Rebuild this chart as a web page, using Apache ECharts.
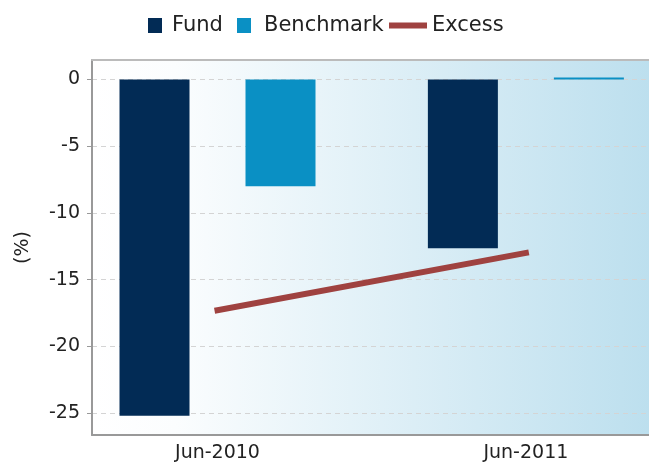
<!DOCTYPE html>
<html>
<head>
<meta charset="utf-8">
<script src="https://cdn.jsdelivr.net/npm/echarts@6/dist/echarts.min.js"></script>
<style>
  html, body { margin: 0; padding: 0; background: #fff; }
  #chart { width: 649px; height: 463px; }
</style>
</head>
<body>
<div id="chart"></div>
<script>
var categories = ["Jun-2010", "Jun-2011"];
var fund = [-25.2, -12.65];
var benchmark = [-8.0, 0.15];
var excess = [-17.3, -13.0];
var yTicks = [0, -5, -10, -15, -20, -25];

function toPoints(values) {
    return values.map(function (v, i) { return [i, v]; });
}

var myChart = echarts.init(document.getElementById("chart"));
var font = "DejaVu Sans";

var legendText = { fontFamily: font, fontSize: 21, color: "#222" };

// plot runs 3px past the right edge so its end line is off-canvas
var xMin = -0.407, xMax = 1.409;

var option = {
    animation: false,
    legend: [{
        data: ["Fund"], left: 143, top: 10, icon: "rect",
        itemWidth: 14, itemHeight: 15,
        textStyle: Object.assign({ padding: [0, 0, 0, 5] }, legendText)
    }, {
        data: ["Benchmark"], left: 232, top: 10, icon: "rect",
        itemWidth: 14, itemHeight: 15,
        textStyle: Object.assign({ padding: [0, 0, 0, 8] }, legendText)
    }, {
        data: ["Excess"], left: 384, top: 10, icon: "rect",
        itemWidth: 38, itemHeight: 6,
        textStyle: legendText
    }],
    grid: {
        left: 92, right: -3, top: 60, bottom: 28,
        outerBoundsMode: "none",
        containLabel: false,
        show: true,
        borderWidth: 0,
        backgroundColor: new echarts.graphic.LinearGradient(0, 0, 1, 0, [
            { offset: 0, color: "#ffffff" },
            { offset: 0.15, color: "#fbfdfe" },
            { offset: 1, color: "#bcdfee" }
        ])
    },
    xAxis: [{
        type: "value",
        min: xMin,
        max: xMax,
        axisLine: { onZero: false, lineStyle: { color: "#999", width: 2 } },
        axisTick: { show: false },
        splitLine: { show: false },
        axisLabel: {
            customValues: [0, 1],
            formatter: function (v) { return categories[Math.round(v)]; },
            fontFamily: font, fontSize: 19, color: "#222", margin: 9
        }
    }, {
        type: "value",
        position: "top",
        min: xMin,
        max: xMax,
        axisLine: { show: true, onZero: false, lineStyle: { color: "#bbb", width: 2 } },
        axisTick: { show: false },
        axisLabel: { show: false },
        splitLine: { show: false }
    }],
    yAxis: {
        type: "value",
        min: -26.65,
        max: 1.46,
        name: "(%)",
        nameLocation: "middle",
        nameRotate: 90,
        nameGap: 59,
        nameTextStyle: { fontFamily: font, fontSize: 19, color: "#222" },
        axisLine: { show: true, onZero: false, lineStyle: { color: "#999", width: 2 } },
        axisTick: { show: true, length: 5, customValues: yTicks, lineStyle: { color: "#999" } },
        axisLabel: {
            customValues: yTicks,
            fontFamily: font, fontSize: 19, color: "#222", margin: 12
        },
        splitLine: {
            show: true,
            customValues: yTicks,
            lineStyle: { color: "#d4d4d4", type: [5, 4], width: 1 }
        }
    },
    series: [{
        name: "Fund",
        type: "bar",
        data: toPoints(fund),
        barWidth: 70,
        barGap: "80%",
        itemStyle: { color: "#022b55" }
    }, {
        name: "Benchmark",
        type: "bar",
        data: toPoints(benchmark),
        barWidth: 70,
        barGap: "80%",
        itemStyle: { color: "#0a90c4" }
    }, {
        name: "Excess",
        type: "line",
        data: toPoints(excess),
        showSymbol: false,
        symbol: "none",
        itemStyle: { color: "#9f4240" },
        lineStyle: { color: "#9f4240", width: 6, cap: "square" }
    }]
};

myChart.setOption(option);
</script>
</body>
</html>
